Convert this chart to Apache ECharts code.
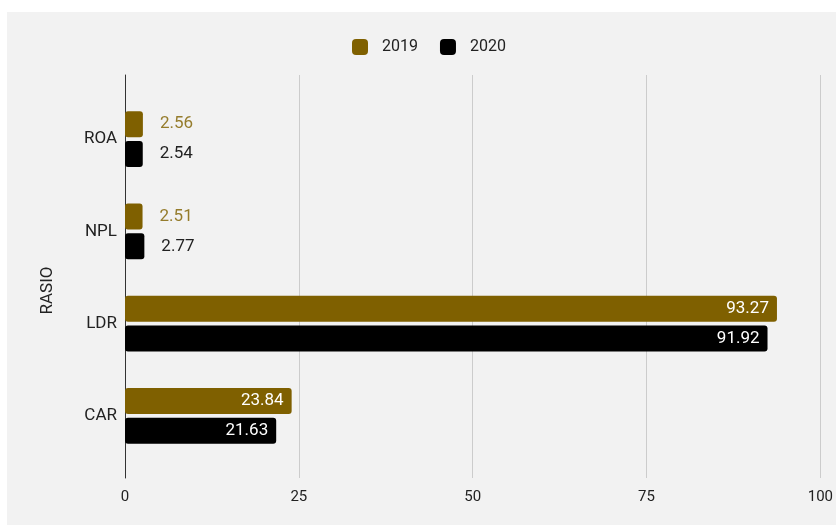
<!DOCTYPE html>
<html>
<head>
<meta charset="utf-8">
<script src="https://cdn.jsdelivr.net/npm/echarts@6/dist/echarts.min.js"></script>
<style>
  html, body { margin: 0; padding: 0; background: #ffffff; }
  #bg { position: absolute; left: 7px; top: 12px; width: 829px; height: 513px; background: #f2f2f2; }
  #chart { position: absolute; left: 0; top: 0; width: 836px; height: 525px; }
</style>
</head>
<body>
<div id="bg"></div>
<div id="chart"></div>
<script>
const categories = ['ROA', 'NPL', 'LDR', 'CAR'];
const seriesNames = ['2019', '2020'];
const values2019 = [2.56, 2.51, 93.27, 23.84];
const values2020 = [2.54, 2.77, 91.92, 21.63];
const xTicks = [0, 25, 50, 75, 100];

const colors = ['#7f6000', '#000000'];
const outsideLabelColors = ['#957c2c', '#222222'];

function buildData(vals, idx) {
  return vals.map(v => {
    const inside = v > 10;
    return {
      value: v,
      label: inside
        ? { position: 'insideRight', distance: 8, color: '#ffffff' }
        : { position: 'right', distance: 17, color: outsideLabelColors[idx] }
    };
  });
}

const chart = echarts.init(document.getElementById('chart'), null, { renderer: 'canvas' });
const font = 'Roboto, "Noto Sans", sans-serif';

chart.setOption({
  backgroundColor: 'transparent',
  animation: false,
  color: colors,
  legend: {
    data: seriesNames,
    left: 352,
    top: 39,
    padding: 0,
    itemWidth: 16,
    itemHeight: 16,
    itemGap: 22,
    icon: 'roundRect',
    textStyle: { fontFamily: font, fontSize: 16, color: '#222', padding: [0, 0, 0, 9] }
  },
  grid: [
    { left: 125, right: 12, top: 75, bottom: 47 },
    { left: 125, right: 12, top: 93, bottom: 63 }
  ],
  xAxis: [
    {
      gridIndex: 0, type: 'value', min: xTicks[0], max: xTicks[xTicks.length - 1], interval: 25,
      axisLine: { show: false }, axisTick: { show: false },
      splitLine: { show: true, lineStyle: { color: '#cccccc', width: 1 } },
      axisLabel: { fontFamily: font, fontSize: 15, color: '#222', margin: 12 }
    },
    {
      gridIndex: 1, type: 'value', min: 0, max: 100, show: false
    }
  ],
  yAxis: [
    {
      gridIndex: 0, type: 'value', min: 0, max: 1,
      axisLine: { show: true, onZero: false, lineStyle: { color: '#333', width: 1 } },
      axisTick: { show: false }, axisLabel: { show: false }, splitLine: { show: false },
      name: 'RASIO', nameLocation: 'middle', nameGap: 69,
      nameTextStyle: { fontFamily: font, fontSize: 17, color: '#222', padding: [0, 28, 0, 0] }
    },
    {
      gridIndex: 1, type: 'category', data: categories, inverse: true,
      axisLine: { show: false }, axisTick: { show: false }, splitLine: { show: false },
      axisLabel: { fontFamily: font, fontSize: 17, color: '#222', margin: 8 }
    }
  ],
  series: [
    {
      name: seriesNames[0], type: 'bar', xAxisIndex: 1, yAxisIndex: 1,
      data: buildData(values2019, 0),
      barWidth: 26, barGap: '15%',
      itemStyle: { borderRadius: 3 },
      label: { show: true, fontFamily: font, fontSize: 17, formatter: p => p.value.toFixed(2) }
    },
    {
      name: seriesNames[1], type: 'bar', xAxisIndex: 1, yAxisIndex: 1,
      data: buildData(values2020, 1),
      barWidth: 26, barGap: '15%',
      itemStyle: { borderRadius: 3 },
      label: { show: true, fontFamily: font, fontSize: 17, formatter: p => p.value.toFixed(2) }
    }
  ]
});
</script>
</body>
</html>
